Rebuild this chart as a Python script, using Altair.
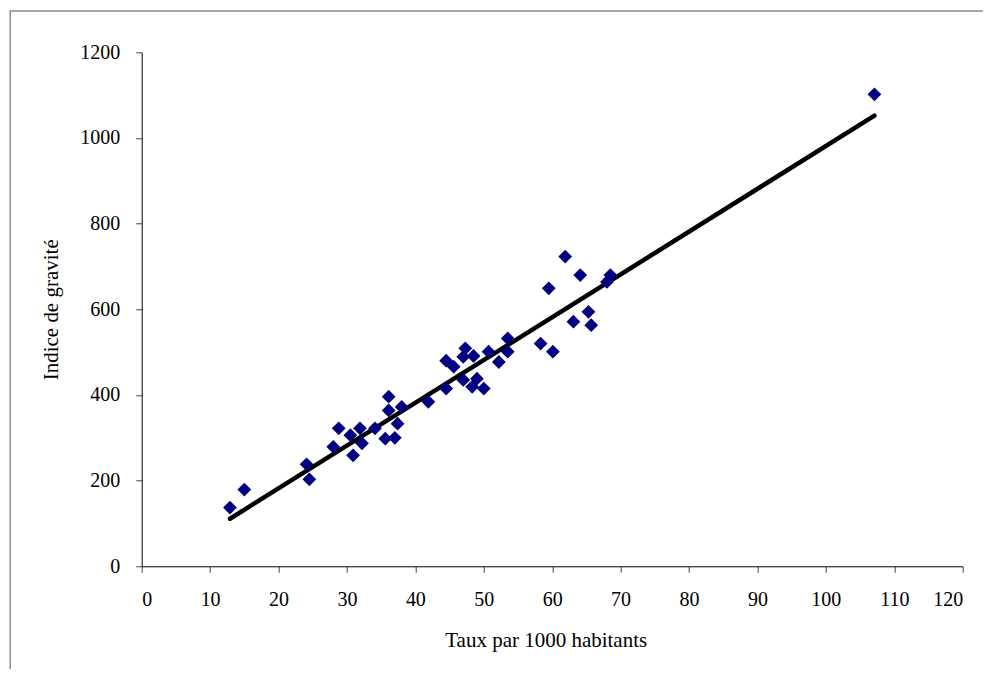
import altair as alt
import pandas as pd

taux = [12.9, 15.0, 24.1, 24.5, 28.0, 28.8, 30.5, 30.9, 31.9, 32.2, 34.1, 35.6,
        36.1, 36.1, 37.0, 37.4, 38.0, 41.9, 44.5, 44.5, 45.6, 47.3, 47.0, 48.5,
        47.0, 49.0, 48.3, 50.0, 50.7, 52.2, 53.5, 53.5, 58.3, 60.1, 59.5, 61.9,
        63.1, 64.1, 65.3, 65.7, 68.0, 68.5, 107.1]
indice = [137, 179, 238, 203, 279, 322, 306, 259, 322, 287, 322, 298,
          396, 364, 300, 333, 372, 384, 480, 415, 466, 509, 489, 491,
          435, 438, 419, 415, 501, 477, 532, 501, 520, 501, 649, 723,
          571, 680, 594, 563, 664, 680, 1102]

trend_x = [12.9, 107.1]
trend_y = [111, 1052]

pts = pd.DataFrame({"x": taux, "y": indice})
trend = pd.DataFrame({"x": trend_x, "y": trend_y})

W, H = 821, 514
FONT = "Liberation Serif"

xs = alt.Scale(domain=[0, 120], nice=False, zero=False)
ys = alt.Scale(domain=[0, 1200], nice=False, zero=False)

frame = alt.Chart(pd.DataFrame({"a": [0]})).mark_rect(
    fill=None, stroke="#8c8c8c", strokeWidth=1.5
).encode(
    x=alt.value(-131.5), x2=alt.value(1000),
    y=alt.value(-41.3), y2=alt.value(700)
)

points = alt.Chart(pts).mark_point(
    shape="diamond", filled=True, color="#000080", size=190, opacity=1
).encode(
    x=alt.X("x:Q", scale=xs,
            axis=alt.Axis(title="Taux par 1000 habitants", format="d",
                          values=list(range(0, 121, 10)), titleX=404)),
    y=alt.Y("y:Q", scale=ys,
            axis=alt.Axis(title="Indice de gravité", format="d",
                          values=list(range(0, 1201, 200)))),
)

line = alt.Chart(trend).mark_line(color="black", strokeWidth=4.5, strokeCap="round").encode(
    x=alt.X("x:Q", scale=xs), y=alt.Y("y:Q", scale=ys)
)

chart = alt.layer(frame, line, points).properties(
    width=W, height=H,
    autosize=alt.AutoSizeParams(type="none"),
    padding={"left": 133.7, "top": 44.3, "right": 20, "bottom": 103},
    background="white",
).configure_view(stroke=None).configure_axis(
    grid=False,
    domainColor="black", domainWidth=1,
    tickColor="#444", tickSize=6, tickWidth=1,
    labelFont=FONT, labelFontSize=20, labelColor="black",
    titleFont=FONT, titleFontSize=21, titleColor="black", titleFontWeight="normal",
).configure_axisX(
    labelPadding=17, titlePadding=20
).configure_axisY(
    labelPadding=16, titlePadding=18
)

chart.save("out.html", embed_options={"renderer": "svg", "actions": False})
